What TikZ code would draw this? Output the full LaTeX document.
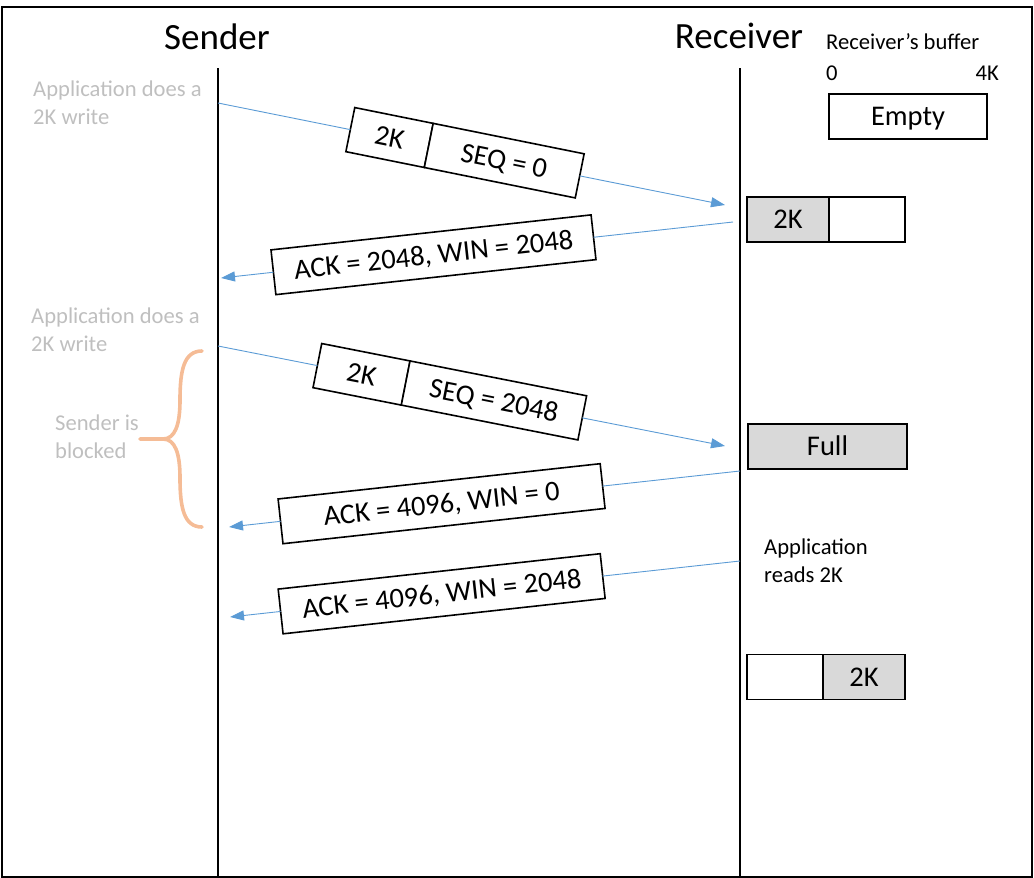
\documentclass[tikz,border=0pt]{standalone}
\usepackage{fontspec}
\setmainfont{Carlito}
\usetikzlibrary{arrows.meta,calc}

\definecolor{msgblue}{HTML}{5B9BD5}
\definecolor{notegray}{HTML}{BFBFBF}
\definecolor{bufgray}{HTML}{D9D9D9}
\definecolor{braceorange}{HTML}{F5BC96}

\newcommand\titlefont{\fontsize{37}{44}\selectfont}
\newcommand\pktfont{\fontsize{28.5}{34}\selectfont}
\newcommand\notefont{\fontsize{22.6}{27.6}\selectfont}

\tikzset{
  lifeline/.style={line width=1.2pt},
  msgline/.style={draw=msgblue, line width=0.9pt},
  msgarrow/.style={msgline, -{Triangle[length=14pt,width=10pt]}},
  pkt/.style={draw, line width=1.6pt, fill=white, minimum height=45pt,
              inner sep=0pt, outer sep=0pt, text height=18.5pt, text depth=0pt,
              font=\pktfont},
  buf/.style={draw, line width=1.8pt, minimum height=45pt,
              inner sep=0pt, outer sep=0pt, text height=18.5pt, text depth=0pt,
              font=\pktfont},
  title/.style={font=\titlefont, inner sep=0pt},
  small/.style={font=\notefont, inner sep=0pt},
  note/.style={font=\notefont, text=notegray, inner sep=0pt, align=left},
  brace/.style={draw=braceorange, line width=3.6pt, line cap=round}
}

\begin{document}
\begin{tikzpicture}[x=1pt,y=-1pt]
  \useasboundingbox (0,0) rectangle (1034,878);
  \draw[line width=2pt] (2,7) rectangle (1032,877);

  % headings
  \node[title, anchor=base] (snd) at (217,49) {Sender};
  \node[title, anchor=base] (rcv) at (739,48) {Receiver};
  \node[small, anchor=base west] (bufl) at (826,49) {Receiver’s buffer};
  \node[small, anchor=base west] (lo) at (826,80) {0};
  \node[small, anchor=base east] (hi) at (999,80) {4K};

  % time lines
  \coordinate (sTop) at (218,68);
  \coordinate (sBot) at (218,877);
  \coordinate (rTop) at (740,68);
  \coordinate (rBot) at (740,877);
  \draw[lifeline] (sTop) -- (sBot);
  \draw[lifeline] (rTop) -- (rBot);

  % message end points
  \coordinate (s1) at (218,103);  \coordinate (t1) at (725,205);
  \coordinate (r2) at (733,222);  \coordinate (t2) at (221,278);
  \coordinate (s3) at (218,346);  \coordinate (t3) at (725,446);
  \coordinate (r4) at (740,471);  \coordinate (t4) at (229,527);
  \coordinate (r5) at (740,561);  \coordinate (t5) at (230,617);

  % segment 1
  \node[pkt, rotate=-11.4, anchor=west, minimum width=80pt] (m1a)
    at ($(s1)!0.261!(t1)$) {2K};
  \node[pkt, rotate=-11.4, anchor=west, minimum width=154pt] (m1b)
    at (m1a.east) {SEQ = 0};
  \draw[msgline] (s1) -- (m1a.west);
  \draw[msgarrow] (m1b.east) -- (t1);

  % ack 1
  \node[pkt, rotate=6.24, minimum width=322pt] (m2)
    at ($(r2)!0.585!(t2)$) {ACK = 2048, WIN = 2048};
  \draw[msgline] (r2) -- (m2.east);
  \draw[msgarrow] (m2.west) -- (t2);

  % segment 2
  \node[pkt, rotate=-11.16, anchor=west, minimum width=90pt] (m3a)
    at ($(s3)!0.196!(t3)$) {2K};
  \node[pkt, rotate=-11.16, anchor=west, minimum width=180pt] (m3b)
    at (m3a.east) {SEQ = 2048};
  \draw[msgline] (s3) -- (m3a.west);
  \draw[msgarrow] (m3b.east) -- (t3);

  % ack 2, zero window
  \node[pkt, rotate=6.25, minimum width=324pt] (m4)
    at ($(r4)!0.584!(t4)$) {ACK = 4096, WIN = 0};
  \draw[msgline] (r4) -- (m4.east);
  \draw[msgarrow] (m4.west) -- (t4);

  % window update
  \node[pkt, rotate=6.27, minimum width=324pt] (m5)
    at ($(r5)!0.585!(t5)$) {ACK = 4096, WIN = 2048};
  \draw[msgline] (r5) -- (m5.east);
  \draw[msgarrow] (m5.west) -- (t5);

  % receiver buffer states
  \node[buf, minimum width=158pt] (b0) at (908,116.5) {Empty};
  \node[buf, fill=bufgray, minimum width=82pt] (b1l) at (788,219.5) {2K};
  \node[buf, minimum width=76pt, anchor=west] (b1r) at (b1l.east) {};
  \node[buf, fill=bufgray, minimum width=159pt] (b2) at (827.5,446.5) {Full};
  \node[buf, minimum width=76pt] (b3l) at (785,677) {};
  \node[buf, fill=bufgray, minimum width=82pt, anchor=west] (b3r) at (b3l.east) {2K};

  % side notes
  \node[note, anchor=north west] (w1) at (33,81) {Application does a\\2K write};
  \node[note, anchor=north west] (w2) at (31,308) {Application does a\\2K write};
  \node[note, anchor=north west] (blk) at (55,415) {Sender is\\blocked};
  \node[small, anchor=north west, align=left] (rd) at (764,539) {Application\\reads 2K};

  % blocked interval
  \draw[brace] (140,439) -- (163,439)
    .. controls (175,439) and (180,425) .. (180,400)
    .. controls (180,370) and (184,351) .. (202,351);
  \draw[brace] (163,439)
    .. controls (175,439) and (180,453) .. (180,478)
    .. controls (180,508) and (184,527) .. (202,527);
\end{tikzpicture}
\end{document}
